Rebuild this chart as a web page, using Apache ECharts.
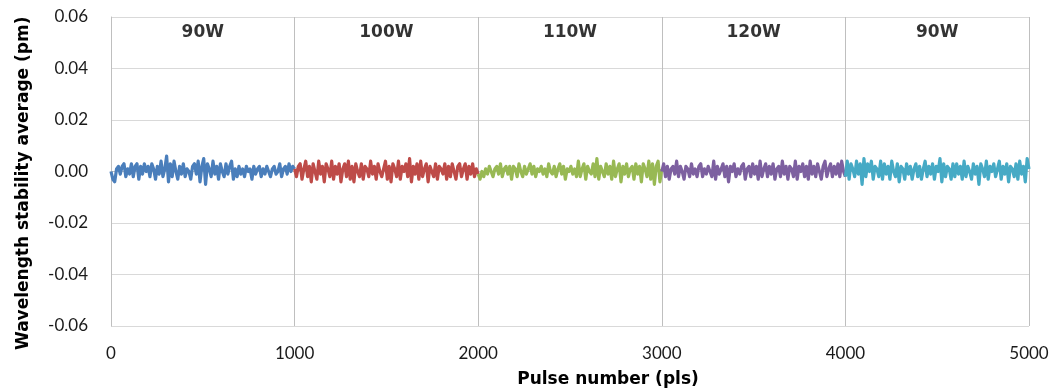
<!DOCTYPE html>
<html>
<head>
<meta charset="utf-8">
<script src="https://cdn.jsdelivr.net/npm/echarts@6/dist/echarts.min.js"></script>
<style>html,body{margin:0;padding:0;background:#fff}#c{width:1054px;height:391px}</style>
</head>
<body>
<div id="c"></div>
<script>
const segmentNames = ['90W', '100W', '110W', '120W', '90W'];
const segmentStarts = [0, 1000, 2000, 3000, 4000];
const segmentLength = 1000;
const xTicks = [0, 1000, 2000, 3000, 4000, 5000];
const yTicks = [-0.06, -0.04, -0.02, 0, 0.02, 0.04, 0.06];
const colors = ['#4A7EBB', '#BE4B48', '#98B954', '#7D60A0', '#46AAC5'];

const seg90a = [
0.000,-0.003,-0.004,0.001,0.002,-0.001,0.002,0.003,-0.002,0.001,
-0.001,0.003,-0.002,0.002,0.003,-0.003,0.002,-0.001,0.003,0.000,
0.002,-0.002,0.003,0.001,-0.003,0.002,-0.001,0.004,-0.002,0.001,
0.006,-0.004,0.003,-0.002,0.004,0.000,-0.003,0.002,-0.001,0.003,
-0.002,0.001,0.000,-0.003,0.002,0.003,-0.001,0.004,-0.004,0.002,
0.005,-0.005,0.003,0.001,-0.002,0.004,-0.001,0.002,-0.003,0.003,
0.000,-0.002,0.003,-0.001,0.002,0.004,-0.003,0.001,-0.002,0.002,
-0.001,0.001,-0.002,0.002,0.000,0.001,-0.003,0.002,-0.001,0.001,
0.002,-0.002,0.001,-0.001,0.002,0.000,-0.002,0.001,0.002,-0.001,
0.000,0.003,-0.002,0.001,0.002,-0.001,0.003,0.000,0.002,0.001];
const seg100 = [
0.001,-0.002,0.002,0.003,-0.003,0.001,0.004,-0.002,0.002,-0.004,
0.003,0.000,-0.003,0.004,-0.001,0.002,-0.004,0.003,0.001,-0.002,
0.004,-0.003,0.002,-0.001,0.003,-0.004,0.001,0.003,-0.002,0.004,
-0.003,0.002,-0.004,0.003,0.000,-0.002,0.003,-0.003,0.002,0.001,
-0.002,0.004,-0.001,0.002,-0.003,0.003,0.000,-0.002,0.001,0.004,
-0.003,0.002,-0.004,0.003,0.001,-0.002,0.004,-0.003,0.002,0.000,
0.003,-0.002,0.005,-0.004,0.002,-0.001,0.003,-0.003,0.004,-0.002,
0.001,0.003,-0.004,0.002,0.000,-0.002,0.003,-0.003,0.002,0.001,
-0.001,0.003,-0.003,0.002,-0.002,0.003,0.000,-0.003,0.002,0.003,
-0.002,0.001,0.003,-0.003,0.002,-0.001,0.003,-0.002,0.001,-0.001];
const seg110 = [
-0.001,-0.003,0.000,-0.002,0.001,-0.001,0.002,0.000,-0.002,0.001,
0.002,-0.001,0.003,-0.002,0.001,0.002,-0.001,0.002,-0.003,0.002,
0.001,-0.002,0.003,0.000,-0.002,0.002,-0.001,0.001,0.003,-0.001,
0.002,-0.002,0.001,0.000,0.002,-0.001,0.001,-0.002,0.003,0.000,
-0.001,0.002,-0.002,0.001,0.003,-0.001,0.002,-0.003,0.001,0.000,
0.002,-0.001,0.001,-0.002,0.004,-0.002,0.001,0.003,-0.003,0.002,
0.000,-0.001,0.003,-0.002,0.005,-0.003,0.002,0.000,-0.002,0.003,
-0.001,0.002,-0.003,0.004,-0.002,0.001,0.003,-0.004,0.002,-0.001,
0.003,-0.002,0.001,0.002,-0.003,0.003,-0.001,0.002,-0.004,0.003,
0.001,-0.002,0.004,-0.003,0.003,-0.005,0.002,0.004,-0.004,0.001];
const seg120 = [
0.000,0.003,-0.002,0.002,-0.003,0.001,0.002,-0.001,0.004,-0.002,
0.002,0.000,-0.003,0.002,0.001,-0.002,0.003,-0.001,0.001,-0.002,
0.002,0.003,-0.002,0.001,-0.001,0.002,0.000,-0.002,0.004,-0.003,
0.002,-0.001,0.001,0.003,-0.002,0.002,-0.004,0.002,0.000,0.003,
-0.002,0.001,-0.001,0.002,0.003,-0.003,0.001,0.002,-0.002,0.003,
-0.001,0.002,-0.003,0.004,-0.002,0.001,0.003,-0.002,0.002,-0.001,
0.003,-0.003,0.001,0.002,-0.002,0.004,-0.001,0.002,-0.003,0.002,
0.001,-0.002,0.004,-0.003,0.002,0.000,0.003,-0.002,0.002,-0.003,
0.004,-0.001,0.002,-0.002,0.003,0.000,-0.003,0.002,0.004,-0.002,
0.001,0.003,-0.002,0.002,-0.001,0.003,-0.002,0.004,0.000,-0.002];
const seg90b = [
-0.002,0.004,-0.003,0.003,0.001,-0.002,0.004,-0.001,0.003,-0.005,
0.005,-0.002,0.003,0.000,0.004,-0.003,0.002,0.001,-0.002,0.004,
-0.003,0.003,-0.001,0.002,-0.003,0.004,0.000,-0.002,0.003,-0.004,
0.002,0.001,-0.003,0.003,-0.001,0.002,-0.003,0.001,0.003,-0.002,
0.002,-0.003,0.001,0.004,-0.002,0.002,-0.001,0.003,-0.003,0.002,
0.000,0.005,-0.004,0.003,-0.002,0.002,0.001,-0.003,0.003,-0.002,
0.003,-0.001,0.002,-0.003,0.004,-0.002,0.002,0.000,-0.003,0.003,
-0.001,0.002,-0.005,0.003,0.001,-0.002,0.004,-0.003,0.002,0.000,
0.003,-0.002,0.001,0.004,-0.003,0.002,-0.001,0.003,-0.004,0.002,
0.001,-0.002,0.003,-0.003,0.004,-0.001,0.002,-0.004,0.005,0.001];
const segments = [seg90a, seg100, seg110, seg120, seg90b];
const labelLevel = 0.0538;

const chart = echarts.init(document.getElementById('c'), null, {renderer: 'canvas'});
const series = segments.map((vals, k) => ({
  type: 'line',
  name: segmentNames[k],
  showSymbol: false,
  symbol: 'none',
  lineStyle: {color: colors[k], width: 3.2, join: 'round'},
  itemStyle: {color: colors[k]},
  data: vals.map((v, i) => [segmentStarts[k] + i * segmentLength / (vals.length - 1), v]),
  z: 3
}));
series.push({
  type: 'scatter',
  symbolSize: 0,
  silent: true,
  data: segmentNames.map((n, k) => ({value: [segmentStarts[k] + segmentLength / 2, labelLevel], name: n})),
  label: {
    show: true, position: 'inside', formatter: p => p.name,
    fontFamily: 'DejaVu Sans', fontWeight: 'bold', fontSize: 17, color: '#000'
  }
});

chart.setOption({
  animation: false,
  grid: {left: 111, right: 25, top: 17, bottom: 65},
  xAxis: {
    type: 'value', min: xTicks[0], max: xTicks[xTicks.length - 1], interval: 1000,
    axisLine: {show: true, lineStyle: {color: '#BFBFBF', width: 1}},
    axisTick: {show: false},
    splitLine: {show: true, lineStyle: {color: '#BFBFBF', width: 1}},
    axisLabel: {color: '#1a1a1a', fontSize: 17, fontFamily: 'Lato', margin: 19,
      formatter: v => String(v)}
  },
  yAxis: {
    type: 'value', min: yTicks[0], max: yTicks[yTicks.length - 1], interval: 0.02,
    axisLine: {show: true, lineStyle: {color: '#BFBFBF', width: 1}},
    axisTick: {show: false},
    splitLine: {show: true, lineStyle: {color: '#D9D9D9', width: 1}},
    axisLabel: {color: '#1a1a1a', fontSize: 17, fontFamily: 'Lato', margin: 23,
      formatter: v => v.toFixed(2)}
  },
  graphic: [
    {type: 'text', x: 608, y: 380,
      style: {text: 'Pulse number (pls)', font: 'bold 17px "DejaVu Sans"', fill: '#000', textAlign: 'center', textVerticalAlign: 'middle'}},
    {type: 'text', rotation: Math.PI / 2, x: 24, y: 350,
      style: {text: 'Wavelength stability average (pm)', font: 'bold 17px "DejaVu Sans"', fill: '#000', textAlign: 'left', textVerticalAlign: 'middle'}}
  ],
  series: series
});
</script>
</body>
</html>
